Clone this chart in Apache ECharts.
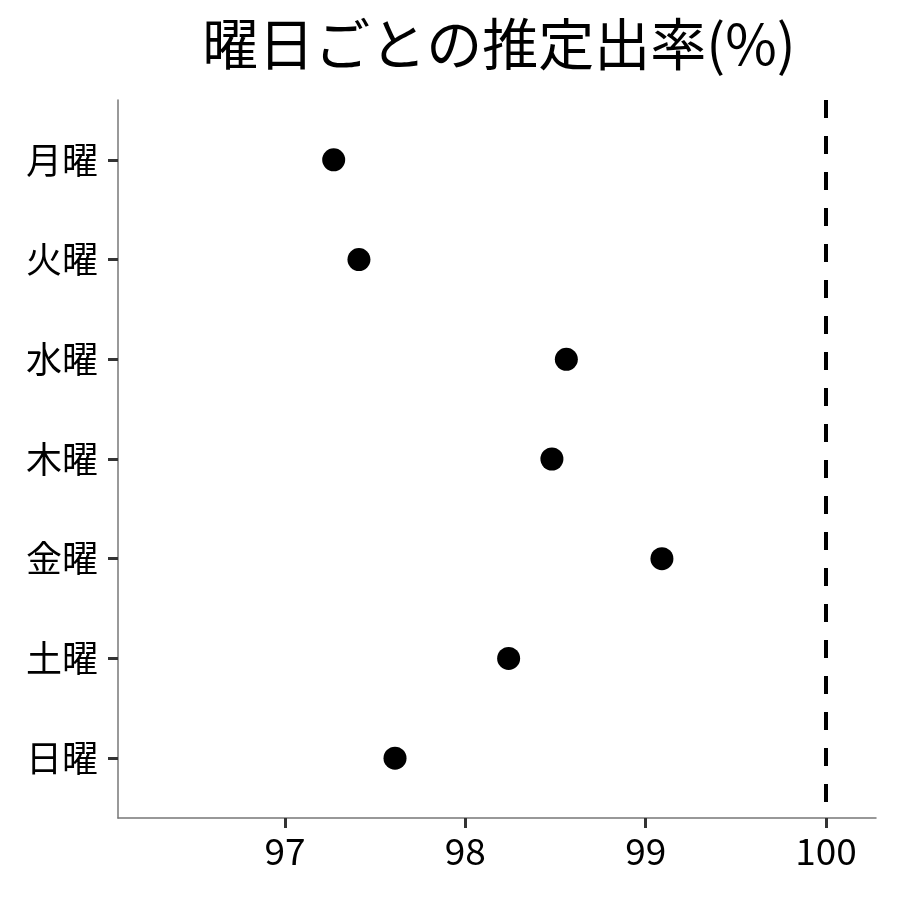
<!DOCTYPE html>
<html><head><meta charset="utf-8">
<script src="https://cdn.jsdelivr.net/npm/echarts@6/dist/echarts.min.js"></script>
<style>html,body{margin:0;padding:0;background:#fff}#c{width:900px;height:900px}</style>
</head><body><div id="c"></div>
<script>
const days = ["月曜","火曜","水曜","木曜","金曜","土曜","日曜"];
const rates = [97.27, 97.41, 98.56, 98.48, 99.09, 98.24, 97.61];
const xTicks = [97, 98, 99, 100];
const refLine = 100;
const titleText = "曜日ごとの推定出率(%)";

const FONT = "Noto Sans CJK JP";
const chart = echarts.init(document.getElementById('c'), null, {renderer:'canvas'});
const dayIdx = days.map((d,i)=>i);
chart.setOption({
  animation:false,
  backgroundColor:'#fff',
  title:{text:titleText,left:494,textAlign:'center',top:11,
    textStyle:{fontFamily:FONT,fontSize:56,fontWeight:'normal',color:'#000'}},
  grid:{left:118,right:24,top:100,bottom:82,containLabel:false},
  xAxis:{type:'value',min:96.074,max:100.277,
    splitLine:{show:false},
    axisLine:{show:true,onZero:false,lineStyle:{color:'#777',width:1.5}},
    axisTick:{show:true,length:10,lineStyle:{color:'#333',width:3},customValues:xTicks},
    axisLabel:{customValues:xTicks,margin:14,fontFamily:FONT,fontSize:37,color:'#000',formatter:v=>String(v)}},
  yAxis:{type:'value',inverse:true,min:-0.6,max:6.6,
    splitLine:{show:false},
    axisLine:{show:true,onZero:false,lineStyle:{color:'#777',width:1.5}},
    axisTick:{show:true,length:10,lineStyle:{color:'#333',width:3},customValues:dayIdx},
    axisLabel:{customValues:dayIdx,margin:20,fontFamily:FONT,fontSize:36,color:'#000',formatter:v=>days[Math.round(v)]}},
  series:[{type:'scatter',symbol:'circle',symbolSize:23,
    itemStyle:{color:'#000',opacity:1},
    data:rates.map((r,i)=>[r,i]),
    markLine:{silent:true,symbol:'none',label:{show:false},
      lineStyle:{color:'#000',type:[18,18],width:4,opacity:1},
      data:[{xAxis:refLine}]}}]
});
</script></body></html>
